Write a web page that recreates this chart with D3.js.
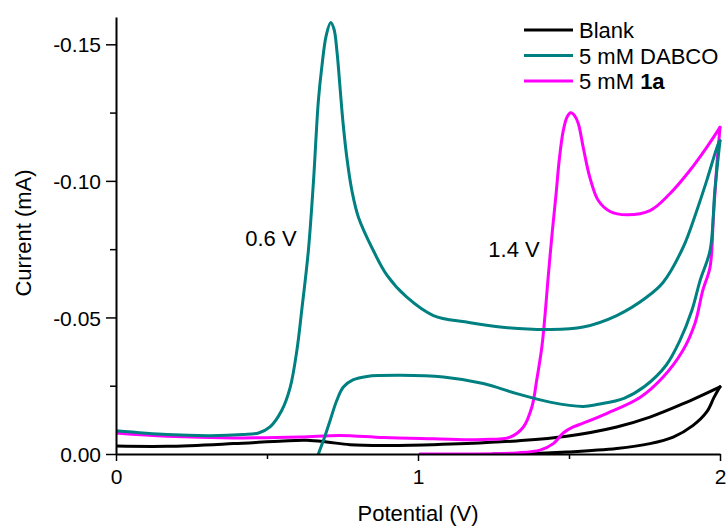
<!DOCTYPE html>
<html>
<head>
<meta charset="utf-8">
<script src="https://cdn.jsdelivr.net/npm/d3@7"></script>
<style>
  body { margin: 0; background: #fff; }
  svg { display: block; font-family: "Liberation Sans", Arial, sans-serif; }
  .axis path, .axis line { stroke: #000; }
  .line { fill: none; stroke-width: 3; stroke-linejoin: round; stroke-linecap: round; }
</style>
</head>
<body>
<svg id="cv"></svg>
<script>
// potential (V), current (mA)
let blankFwd = [[0,-0.0029],[0.169,-0.0028],[0.389,-0.0038],[0.555,-0.0048],[0.632,-0.005],[0.698,-0.0044],
  [0.775,-0.0034],[0.886,-0.0031],[1.051,-0.0034],[1.161,-0.0038],[1.327,-0.0048],[1.492,-0.0065],
  [1.658,-0.0099],[1.768,-0.0135],[1.878,-0.0184],[2.0,-0.0246]]
let blankRev = [[2.0,-0.0246],[1.981,-0.0209],[1.956,-0.0154],[1.911,-0.0105],[1.845,-0.0062],[1.768,-0.0038],
  [1.658,-0.002],[1.492,-0.0007],[1.36,-0.0001],[1.25,0]]

let dabcoFwd = [[0,-0.0085],[0.169,-0.0071],[0.312,-0.0067],[0.42,-0.0071],[0.472,-0.0077],[0.51,-0.0099],
  [0.549,-0.016],[0.577,-0.0245],[0.599,-0.038],[0.615,-0.0526],[0.637,-0.0745],[0.654,-0.1],[0.67,-0.1292],
  [0.682,-0.1422],[0.696,-0.1532],[0.711,-0.158],[0.722,-0.1555],[0.732,-0.147],[0.742,-0.134],
  [0.752,-0.121],[0.765,-0.108],[0.781,-0.0965],[0.803,-0.0866],[0.852,-0.0745],[0.897,-0.0655],
  [0.963,-0.0574],[1.051,-0.0507],[1.161,-0.0483],[1.272,-0.0465],[1.437,-0.0456],[1.547,-0.0465],
  [1.658,-0.0507],[1.757,-0.0574],[1.812,-0.0629],[1.878,-0.0757],[1.923,-0.0891],[1.956,-0.1001],
  [1.994,-0.1135],[2.0,-0.1147]]
let dabcoRev = [[2.0,-0.1147],[1.983,-0.0965],[1.967,-0.0745],[1.934,-0.0635],[1.907,-0.0526],[1.867,-0.0415],
  [1.821,-0.0324],[1.751,-0.0248],[1.682,-0.0204],[1.597,-0.0182],[1.547,-0.0174],[1.437,-0.019],
  [1.327,-0.0221],[1.216,-0.0258],[1.084,-0.0282],[0.941,-0.0288],[0.831,-0.0284],[0.786,-0.0272],
  [0.753,-0.0245],[0.731,-0.0196],[0.709,-0.0123],[0.687,-0.005],[0.67,0]]

let oneaFwd = [[0,-0.0077],[0.169,-0.0065],[0.389,-0.0059],[0.61,-0.0062],[0.742,-0.0068],[0.886,-0.006],
  [1.051,-0.0056],[1.216,-0.0053],[1.305,-0.0062],[1.349,-0.0099],[1.377,-0.0172],[1.393,-0.027],
  [1.41,-0.0391],[1.421,-0.0514],[1.43,-0.0635],[1.445,-0.0818],[1.457,-0.095],[1.468,-0.108],
  [1.481,-0.1184],[1.494,-0.1235],[1.506,-0.1249],[1.519,-0.1238],[1.531,-0.1209],[1.547,-0.1123],
  [1.569,-0.1013],[1.597,-0.0928],[1.636,-0.0888],[1.691,-0.0876],[1.768,-0.0891],[1.834,-0.0953],
  [1.9,-0.1038],[1.956,-0.1123],[2.0,-0.1196]]
let oneaRev = [[2.0,-0.1196],[1.989,-0.105],[1.978,-0.0867],[1.967,-0.0684],[1.943,-0.0599],[1.917,-0.0478],
  [1.877,-0.0379],[1.811,-0.0281],[1.735,-0.0207],[1.626,-0.0149],[1.547,-0.0113],[1.514,-0.0099],
  [1.481,-0.0077],[1.448,-0.0038],[1.404,-0.0014],[1.327,-0.0004],[1.161,0],[1.007,0]]

let seriesNames = ['Blank', '5 mM DABCO', '5 mM ']
let seriesColors = ['#000000', '#008080', '#ff00ff']

let xTicks = [0, 1, 2]
let xMinorTicks = [0.5, 1.5]
let yTicks = [0, -0.05, -0.10, -0.15]
let yTickLabels = ['0.00', '-0.05', '-0.10', '-0.15']
let yMinorTicks = [-0.025, -0.075, -0.125]

let peakLabels = ['0.6 V', '1.4 V']
let peakLabelPos = [[0.428, -0.0763], [1.233, -0.0721]]

function getConfig(){
    let width = 728, height = 527
    let container = d3.select('#cv').attr('width', width).attr('height', height)
    let xScale = d3.scaleLinear().domain([0, 2]).range([116, 720])
    let yScale = d3.scaleLinear().domain([0, -0.16]).range([454, 17])
    return { width, height, container, xScale, yScale }
}

function drawAxes(config){
    let { container, xScale, yScale } = config

    // minor ticks first, majors on top
    container.append('g').attr('class', 'axis')
        .attr('transform', 'translate(0,454)')
        .call(d3.axisBottom(xScale).tickValues(xMinorTicks).tickSize(5).tickSizeOuter(0).tickFormat(''))
        .call(g => g.select('.domain').remove())
        .selectAll('line').attr('stroke-width', 1.5)

    container.append('g').attr('class', 'axis')
        .attr('transform', 'translate(116,0)')
        .call(d3.axisLeft(yScale).tickValues(yMinorTicks).tickSize(6).tickSizeOuter(0).tickFormat(''))
        .call(g => g.select('.domain').remove())
        .selectAll('line').attr('stroke-width', 1.5)

    let xAxis = container.append('g').attr('class', 'axis')
        .attr('transform', 'translate(0,454)')
        .call(d3.axisBottom(xScale).tickValues(xTicks).tickSize(7).tickSizeOuter(0).tickFormat(d3.format('d')))
    xAxis.select('.domain').attr('stroke-width', 2)
    xAxis.selectAll('line').attr('stroke-width', 1.5)
    xAxis.selectAll('text')
        .attr('y', 30).attr('dy', null)
        .attr('font-size', 21).attr('fill', '#000')
        .attr('font-family', '"Liberation Sans", Arial, sans-serif')

    let yAxis = container.append('g').attr('class', 'axis')
        .attr('transform', 'translate(116,0)')
        .call(d3.axisLeft(yScale).tickValues(yTicks).tickSize(10).tickSizeOuter(0)
            .tickFormat((d, i) => yTickLabels[i]))
    yAxis.select('.domain').attr('stroke-width', 2)
    yAxis.selectAll('line').attr('stroke-width', 1.5)
    yAxis.selectAll('text')
        .attr('x', -15).attr('dy', '0.36em')
        .attr('font-size', 21).attr('fill', '#000')
        .attr('font-family', '"Liberation Sans", Arial, sans-serif')

    container.append('text')
        .attr('x', 418).attr('y', 521)
        .attr('text-anchor', 'middle')
        .attr('font-size', 22)
        .text('Potential (V)')

    container.append('text')
        .attr('transform', 'translate(31,233) rotate(-90)')
        .attr('text-anchor', 'middle')
        .attr('font-size', 22)
        .text('Current (mA)')
}

function drawLines(config){
    let { container, xScale, yScale, width } = config

    container.append('clipPath').attr('id', 'plotClip')
        .append('rect').attr('x', 116).attr('y', 0).attr('width', width - 116).attr('height', 454)

    let lineG = d3.line()
        .x(d => xScale(d[0]))
        .y(d => yScale(d[1]))
        .curve(d3.curveCatmullRom.alpha(0.5))

    let body = container.append('g').attr('clip-path', 'url(#plotClip)')
    let sweeps = [
        [blankFwd, 0], [blankRev, 0],
        [oneaFwd, 2], [oneaRev, 2],
        [dabcoFwd, 1], [dabcoRev, 1]
    ]
    sweeps.forEach(([data, k]) => {
        body.append('path')
            .datum(data)
            .attr('class', 'line')
            .attr('stroke', seriesColors[k])
            .attr('d', lineG)
    })

    container.selectAll('.peakLabel')
        .data(peakLabels)
        .enter().append('text')
        .attr('class', 'peakLabel')
        .attr('x', (d, i) => xScale(peakLabelPos[i][0]))
        .attr('y', (d, i) => yScale(peakLabelPos[i][1]))
        .attr('font-size', 22)
        .text(d => d)
}

function drawLegend(config){
    let { container } = config
    let legend = container.append('g').attr('transform', 'translate(524,30)')
    seriesNames.forEach((name, i) => {
        let row = legend.append('g').attr('transform', `translate(0,${i * 25.5})`)
        row.append('line')
            .attr('x1', 0).attr('x2', 49)
            .attr('stroke', seriesColors[i]).attr('stroke-width', 3)
        let t = row.append('text')
            .attr('x', 55).attr('y', 8)
            .attr('font-size', 22)
            .text(name)
        if (i === 2) t.append('tspan').attr('font-weight', 'bold').text('1a')
    })
}

let config = getConfig()
drawLines(config)
drawAxes(config)
drawLegend(config)
</script>
</body>
</html>
